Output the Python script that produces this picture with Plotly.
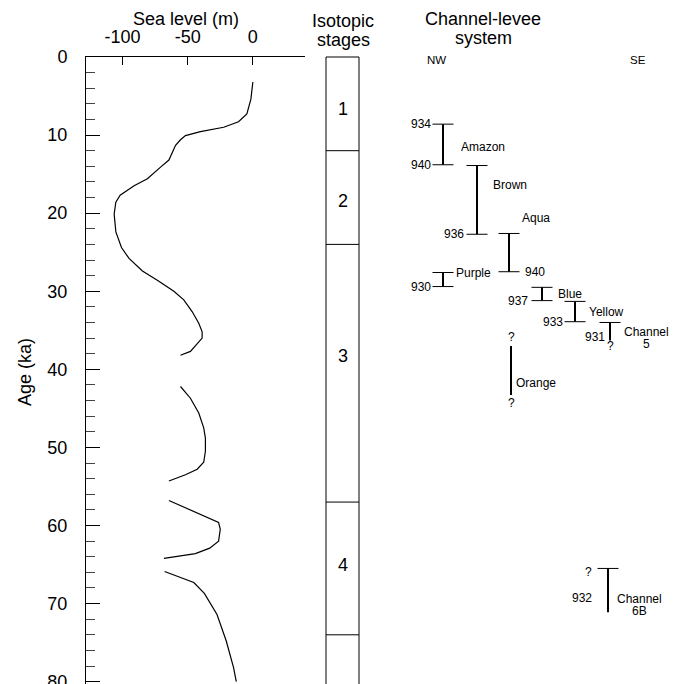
import plotly.graph_objects as go

# ---------------- data ----------------
# sea-level curve (age in ka, sea level in m); None marks gaps in the curve
sea_age = [3.2, 4.6, 5.4, 7.3, 8.3, 9.0, 9.55, 10.06, 10.6, 11.3, 13.2, 14.1, 15.6, 16.5,
           17.7, 18.6, 20.1, 22.4, 24.4, 25.8, 27.4, 28.6, 30.0, 31.1, 32.6, 34.1, 35.2,
           36.0, 37.7, 38.2, None,
           42.2, 43.7, 45.6, 47.5, 48.8, 50.5, 51.9, 52.8, 53.5, 54.3, None,
           56.8, 59.6, 60.5, 62.0, 62.9, 63.6, 64.2, None,
           65.9, 67.3, 68.7, 71.4, 74.8, 78.2, 80.0]
sea_level = [0.0, -0.7, -1.5, -4.6, -11.0, -22.4, -40.2, -51.7, -55.5, -59.3, -64.4, -70.8,
             -80.9, -91.1, -101.8, -105.1, -106.4, -105.1, -100.8, -95.0, -84.7, -73.3,
             -60.6, -53.0, -46.6, -41.5, -38.9, -38.9, -47.9, -55.5, None,
             -55.5, -47.9, -41.5, -37.7, -36.4, -36.4, -37.7, -42.7, -51.7, -64.4, None,
             -64.4, -26.3, -25.0, -26.3, -33.1, -44.1, -68.2, None,
             -67.7, -45.3, -37.2, -27.5, -20.4, -14.8, -12.7]
sea_ticks = [-100, -50, 0]
sea_ticktext = ["-100", "-50", "0"]

# isotopic stages
stage_bounds = [0, 12, 24, 57, 74]
stage_names = ["1", "2", "3", "4"]
stage_label_age = [6.6, 18.4, 38.3, 65.1]

# channel-levee systems (lateral position NW -> SE, ages in ka)
systems = ["Amazon", "Brown", "Aqua", "Purple", "Blue", "Yellow", "Channel 5", "Orange", "Channel 6B"]
lateral = [10.2, 13.6, 16.8, 10.2, 20.1, 23.4, 26.9, 17.0, 26.7]
top_age = [8.6, 13.9, 22.6, 27.6, 29.5, 31.3, 34.0, 37.0, 65.5]
base_age = [13.8, 22.7, 27.5, 29.4, 31.2, 33.9, 36.3, 43.3, 71.1]
top_cap = [True, True, True, True, True, True, True, False, True]
base_cap = [True, True, True, True, True, True, False, False, False]

# core numbers
core_sys = ["Amazon", "Amazon", "Brown", "Aqua", "Purple", "Blue", "Yellow", "Channel 5", "Channel 6B"]
core_age = [8.6, 13.8, 22.7, 27.5, 29.4, 31.2, 33.9, 35.8, 69.3]
core_text = ["934", "940", "936", "940", "930", "937", "933", "931", "932"]

# uncertain limits
query_sys = ["Channel 5", "Orange", "Orange", "Channel 6B"]
query_age = [37.0, 35.8, 44.3, 66.0]

# ---------------- placement / style ----------------
W, H = 682, 684
FONT = "Liberation Sans, Arial, sans-serif"
CAP = 1.05  # half width of caps (lateral units)

# name placement: (dx from bar, age)
name_place = {
    "Amazon": (1.6, 11.5), "Brown": (1.37, 16.4), "Aqua": (1.1, 20.6),
    "Purple": (1.05, 27.6), "Blue": (1.37, 30.4), "Yellow": (1.17, 32.7),
    "Orange": (0.3, 41.7),
}
# two-line names: (dx, age of line 1, line 2, age of line 2)
two_line = {"Channel 5": (1.3, 35.2, "5", 36.8), "Channel 6B": (0.8, 69.4, "6B", 71.0)}
# core label placement: (mode, xshift)
core_place = [("capL", 0), ("capL", 0), ("capL", -1), ("capR", 3), ("capL", 0),
              ("capL", -2), ("capL", 0), ("bar", -3), ("bar", -14)]
query_place = [("c", 0), ("c", 0), ("c", 0), ("capL", -4)]

pos = dict(zip(systems, lateral))

fig = go.Figure()

# sea-level curve
fig.add_trace(go.Scatter(x=sea_level, y=sea_age, mode="lines", xaxis="x", yaxis="y",
                         line=dict(color="black", width=1.2), connectgaps=False,
                         hoverinfo="skip"))

# channel bars
bx, by, cx, cy = [], [], [], []
for s, xl, t, b, tc, bc in zip(systems, lateral, top_age, base_age, top_cap, base_cap):
    bx += [xl, xl, None]
    by += [t, b, None]
    if tc:
        cx += [xl - CAP, xl + CAP, None]
        cy += [t, t, None]
    if bc:
        cx += [xl - CAP, xl + CAP, None]
        cy += [b, b, None]
fig.add_trace(go.Scatter(x=bx, y=by, mode="lines", xaxis="x2", yaxis="y",
                         line=dict(color="black", width=2), hoverinfo="skip"))
fig.add_trace(go.Scatter(x=cx, y=cy, mode="lines", xaxis="x2", yaxis="y",
                         line=dict(color="black", width=1), hoverinfo="skip"))

ann = []
small = dict(family=FONT, size=12, color="black")
big = dict(family=FONT, size=18, color="black")

for s, (dx, age) in name_place.items():
    ann.append(dict(x=pos[s] + dx, y=age, xref="x2", yref="y", text=s, showarrow=False,
                    xanchor="left", yanchor="middle", font=small))
for s, (dx, age, line2, age2) in two_line.items():
    ann.append(dict(x=pos[s] + dx, y=age, xref="x2", yref="y", text="Channel", showarrow=False,
                    xanchor="left", yanchor="middle", font=small, borderpad=0))
    ann.append(dict(x=pos[s] + dx + 2.3, y=age2, xref="x2", yref="y", text=line2, showarrow=False,
                    xanchor="center", yanchor="middle", font=small, borderpad=0))

for s, age, txt, (mode, sh) in zip(core_sys, core_age, core_text, core_place):
    if mode == "capL":
        x, xa = pos[s] - CAP, "right"
    elif mode == "capR":
        x, xa = pos[s] + CAP, "left"
    else:
        x, xa = pos[s], "right"
    ann.append(dict(x=x, y=age, xref="x2", yref="y", text=txt, showarrow=False,
                    xanchor=xa, yanchor="middle", xshift=sh, font=small))

for s, age, (mode, sh) in zip(query_sys, query_age, query_place):
    if mode == "capL":
        x, xa = pos[s] - CAP, "right"
    else:
        x, xa = pos[s], "center"
    ann.append(dict(x=x, y=age, xref="x2", yref="y", text="?", showarrow=False,
                    xanchor=xa, yanchor="middle", xshift=sh, font=small))

# NW / SE
ann.append(dict(x=8.4, y=0.4, xref="x2", yref="y", text="NW", showarrow=False,
                xanchor="left", yanchor="middle", font=dict(family=FONT, size=11.5, color="black")))
ann.append(dict(x=28.7, y=0.4, xref="x2", yref="y", text="SE", showarrow=False,
                xanchor="left", yanchor="middle", font=dict(family=FONT, size=11.5, color="black")))

# isotopic stage column
col_x0, col_x1 = 326 / W, 359 / W
shapes = [
    dict(type="line", xref="paper", yref="paper", x0=col_x0, x1=col_x0, y0=0, y1=1,
         line=dict(color="black", width=1)),
    dict(type="line", xref="paper", yref="paper", x0=col_x1, x1=col_x1, y0=0, y1=1,
         line=dict(color="#555", width=1.5)),
]
for b in stage_bounds:
    if b == 0:
        shapes.append(dict(type="line", xref="paper", yref="paper", x0=col_x0, x1=col_x1,
                           y0=1, y1=1, line=dict(color="black", width=1)))
    else:
        shapes.append(dict(type="line", xref="paper", yref="y", x0=col_x0, x1=col_x1,
                           y0=b, y1=b, line=dict(color="black", width=1)))
for nm, age in zip(stage_names, stage_label_age):
    ann.append(dict(x=(col_x0 + col_x1) / 2, y=age, xref="paper", yref="y", text=nm,
                    showarrow=False, xanchor="center", yanchor="middle", font=big))

# headings (paper coords, pixel -> paper)
T = 57
def py(p):
    return (H - p) / (H - T)

heads = [
    ("Sea level (m)", 186 / W, 18.5),
    ("Isotopic", 343 / W, 21),
    ("stages", 343 / W, 39.5),
    ("Channel-levee", 483 / W, 19),
    ("system", 483 / W, 37.5),
]
for txt, x, p in heads:
    ann.append(dict(x=x, y=py(p), xref="paper", yref="paper", text=txt, showarrow=False,
                    xanchor="center", yanchor="middle", font=big, borderpad=0))
ann.append(dict(x=25 / W, y=py(372), xref="paper", yref="paper", text="Age (ka)",
                showarrow=False, textangle=-90, xanchor="center", yanchor="middle", font=big))

fig.update_layout(
    width=W, height=H,
    margin=dict(l=0, r=0, t=T, b=0, autoexpand=False),
    paper_bgcolor="white", plot_bgcolor="white",
    showlegend=False,
    font=dict(family=FONT, size=18, color="black"),
    xaxis=dict(domain=[86 / W, 305 / W], range=[-128, 40], side="top", anchor="y",
               tickmode="array", tickvals=sea_ticks, ticktext=sea_ticktext,
               ticks="inside", ticklen=8, tickcolor="black", tickwidth=1,
               showline=True, linecolor="black", linewidth=1, automargin=False,
               showgrid=False, zeroline=False, ticklabelstandoff=6,
               tickfont=dict(family=FONT, size=18, color="black")),
    yaxis=dict(domain=[0, 1], range=[80.3, 0], anchor="x", automargin=False,
               tick0=0, dtick=10, ticks="inside", ticklen=14, tickcolor="black", tickwidth=1,
               minor=dict(dtick=2, ticks="inside", ticklen=9, tickcolor="#444", tickwidth=1),
               showline=True, linecolor="black", linewidth=1,
               showgrid=False, zeroline=False, ticklabelstandoff=14,
               ticklabeloverflow="allow",
               tickfont=dict(family=FONT, size=18, color="black")),
    xaxis2=dict(domain=[0.5, 1.0], range=[0, 34.1], anchor="y", visible=False),
    annotations=ann,
    shapes=shapes,
)

fig.write_html("out.html")
